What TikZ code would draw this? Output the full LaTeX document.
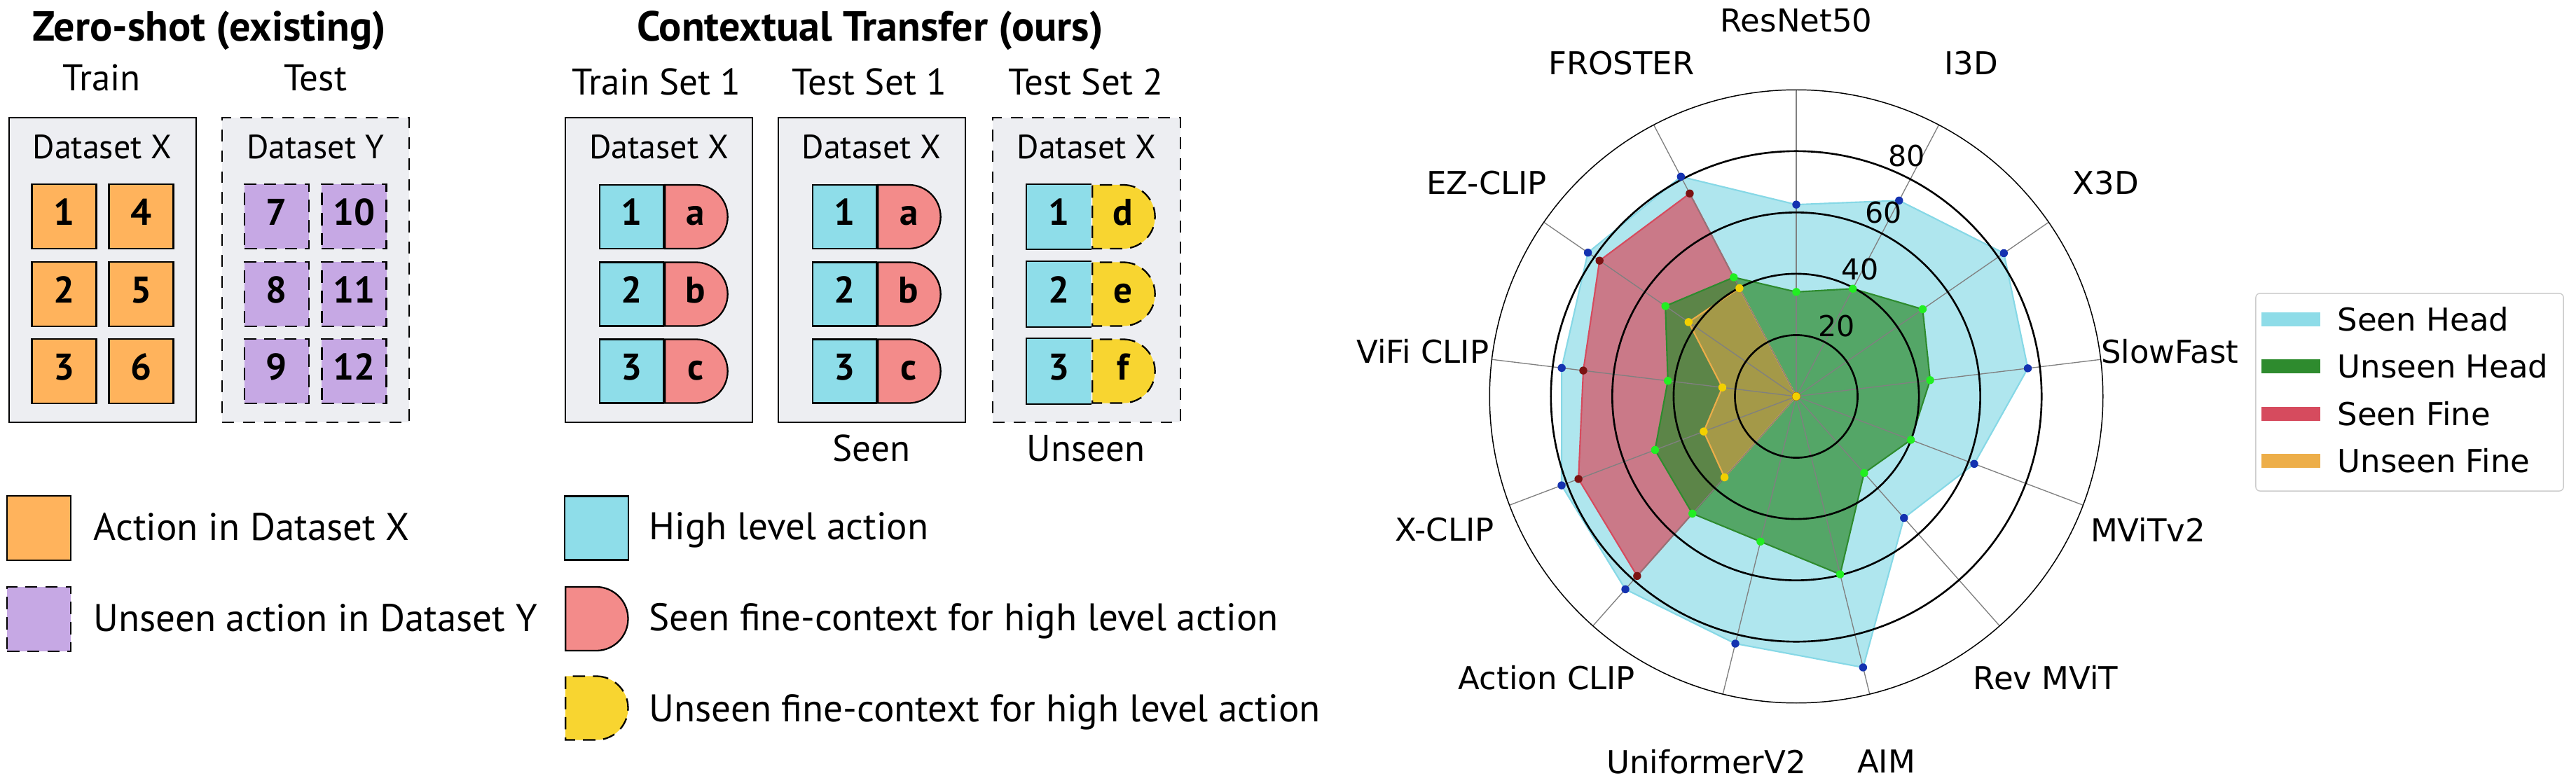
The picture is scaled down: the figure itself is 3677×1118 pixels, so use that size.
\documentclass[tikz,border=0pt]{standalone}
\usepackage{fontspec}
\setmainfont{PT Sans}
\newfontfamily\dvs{DejaVu Sans}
\usetikzlibrary{shapes.misc}
\definecolor{boxgray}{HTML}{EDEEF2}
\definecolor{actorange}{HTML}{FFB35C}
\definecolor{actpurple}{HTML}{C6A8E4}
\definecolor{actcyan}{HTML}{8EDDE9}
\definecolor{actred}{HTML}{F38B8A}
\definecolor{actyellow}{HTML}{F8D530}
\definecolor{shcol}{HTML}{8EDCE8}
\definecolor{shedge}{HTML}{86D8E6}
\definecolor{uhcol}{HTML}{2E8B2E}
\definecolor{sfcol}{HTML}{D64B5E}
\definecolor{ufcol}{HTML}{EDAE49}
\definecolor{dotblue}{HTML}{1432B0}
\definecolor{dotred}{HTML}{7B1212}
\definecolor{dotgreen}{HTML}{22EE22}
\definecolor{dotgold}{HTML}{F2D000}
\definecolor{spokegray}{HTML}{808080}
\definecolor{leggray}{HTML}{CCCCCC}
\newcommand{\fsz}[1]{\fontsize{#1}{#1}\selectfont}
\begin{document}
\begin{tikzpicture}[x=0.01cm, y=-0.01cm,
  setbox/.style={draw=black, line width=0.55pt, fill=boxgray, minimum width=2.67cm, minimum height=4.35cm, inner sep=0pt},
  dsetbox/.style={setbox, dash pattern=on 4.8pt off 3.7pt},
  actsq/.style={draw=black, line width=0.65pt, minimum width=0.92cm, minimum height=0.92cm, inner sep=0pt, font=\fsz{15.08}\bfseries, text height=0.7em, text depth=0pt},
  orangesq/.style={actsq, fill=actorange},
  purplesq/.style={actsq, fill=actpurple, dash pattern=on 5pt off 3.2pt},
  hisq/.style={actsq, fill=actcyan, minimum width=0.91cm, minimum height=0.91cm},
  hisqopen/.style={hisq, draw=none},
  pillline/.style={draw=black, line width=0.65pt},
  dhalf/.style={actsq, rounded rectangle, rounded rectangle west arc=none, minimum width=0.83cm, minimum height=0.91cm, anchor=west},
  seenD/.style={dhalf, fill=actred},
  unseenD/.style={dhalf, fill=actyellow, dash pattern=on 5pt off 3.2pt},
  titletxt/.style={anchor=base, inner sep=0pt, font=\fsz{17.07}\bfseries},
  headtxt/.style={anchor=base, inner sep=0pt, font=\fsz{15.08}},
  dlab/.style={anchor=base, inner sep=0pt, font=\fsz{13.66}},
  legtext/.style={anchor=base west, inner sep=0pt, font=\fsz{15.65}},
  axlab/.style={inner sep=0pt, font={\dvs\fsz{12.8}}},
  ticklab/.style={inner sep=0pt, font={\dvs\fsz{11.7}}},
  rlegtext/.style={anchor=base west, inner sep=0pt, font={\dvs\fsz{12.8}}},
  ring/.style={draw=black, line width=0.75pt},
  spoke/.style={draw=spokegray, line width=0.38pt},
  polyedge/.style={line width=0.6pt, line join=round}
]
\fill[white] (0,0) rectangle (3677,1118);
\useasboundingbox (0,0) rectangle (3677,1118);

% ---------- titles and headers ----------
\node[titletxt] (t1) at (299,58) {Zero-shot (existing)};
\node[titletxt] (t2) at (1242,58) {Contextual Transfer (ours)};
\node[headtxt] (h1) at (145,129) {Train};
\node[headtxt] (h2) at (450,129) {Test};
\node[headtxt] (h3) at (937,136) {Train Set 1};
\node[headtxt] (h4) at (1241,136) {Test Set 1};
\node[headtxt] (h5) at (1550,136) {Test Set 2};

% ---------- dataset boxes ----------
\node[setbox] (bA) at (146.5,385.5) {};
\node[dsetbox] (bB) at (450.5,385.5) {};
\node[setbox] (bC) at (940.5,385.5) {};
\node[setbox] (bD) at (1244.5,385.5) {};
\node[dsetbox] (bE) at (1551,385.5) {};
\node[dlab] (dA) at (146,226) {Dataset X};
\node[dlab] (dB) at (450,226) {Dataset Y};
\node[dlab] (dC) at (940.5,226) {Dataset X};
\node[dlab] (dD) at (1244,226) {Dataset X};
\node[dlab] (dE) at (1551,226) {Dataset X};

% ---------- zero-shot squares ----------
\node[orangesq] (o1) at (91.5,309) {1};
\node[orangesq] (o2) at (91.5,420) {2};
\node[orangesq] (o3) at (91.5,530) {3};
\node[orangesq] (o4) at (201.5,309) {4};
\node[orangesq] (o5) at (201.5,420) {5};
\node[orangesq] (o6) at (201.5,530) {6};
\node[purplesq] (p7) at (395,309) {7};
\node[purplesq] (p8) at (395,420) {8};
\node[purplesq] (p9) at (395,530) {9};
\node[purplesq] (p10) at (505.5,309) {10};
\node[purplesq] (p11) at (505.5,420) {11};
\node[purplesq] (p12) at (505.5,530) {12};

% ---------- contextual transfer pills ----------
\node[hisq] (c1) at (901.5,309.5) {1};
\node[seenD] (ca) at (c1.east) {a};
\node[hisq] (c2) at (901.5,420) {2};
\node[seenD] (cb) at (c2.east) {b};
\node[hisq] (c3) at (901.5,530) {3};
\node[seenD] (cc) at (c3.east) {c};

\node[hisq] (d1) at (1205.5,309.5) {1};
\node[seenD] (da) at (d1.east) {a};
\node[hisq] (d2) at (1205.5,420) {2};
\node[seenD] (db) at (d2.east) {b};
\node[hisq] (d3) at (1205.5,530) {3};
\node[seenD] (dc) at (d3.east) {c};

\node[hisqopen] (e1) at (1511.5,309.5) {1};
\draw[pillline] (e1.north east) -- (e1.north west) -- (e1.south west) -- (e1.south east);
\node[unseenD] (ed) at (e1.east) {d};
\node[hisqopen] (e2) at (1511.5,420) {2};
\draw[pillline] (e2.north east) -- (e2.north west) -- (e2.south west) -- (e2.south east);
\node[unseenD] (ee) at (e2.east) {e};
\node[hisqopen] (e3) at (1511.5,530) {3};
\draw[pillline] (e3.north east) -- (e3.north west) -- (e3.south west) -- (e3.south east);
\node[unseenD] (ef) at (e3.east) {f};

\node[headtxt] (seenlab) at (1244,658.5) {Seen};
\node[headtxt] (unseenlab) at (1550,658.5) {Unseen};

% ---------- left legends ----------
\node[orangesq, minimum width=0.91cm] (lo) at (55.5,754) {};
\node[legtext] (lot) at (133,771) {Action in Dataset X};
\node[purplesq, minimum width=0.91cm] (lp) at (55.5,884) {};
\node[legtext] (lpt) at (133,901) {Unseen action in Dataset Y};
\node[hisq] (lc) at (851.5,754) {};
\node[legtext] (lct) at (926,770) {High level action};
\node[seenD, minimum width=0.84cm] (lr) at (806,883.5) {};
\node[legtext] (lrt) at (926,900) {Seen fine-context for high level action};
\node[unseenD, minimum width=0.84cm] (ly) at (806,1011) {};
\node[legtext] (lyt) at (926,1030) {Unseen fine-context for high level action};

% ---------- radar chart ----------
\begin{scope}[shift={(2564,566)}, yscale=-1]
  \coordinate (rc) at (0,0);
  \foreach \v [count=\i from 0] in {62.6,72.2,82.3,76.1,62.1,53.0,91.1,83.1,84.1,81.9,77.1,82.6,81.0}
    \coordinate (sh\i) at ({90-\i*360/13}:{4.375*\v});
  \foreach \v [count=\i from 0] in {34.1,39.7,50.1,44.0,40.0,33.4,59.8,48.8,51.1,49.3,42.2,51.9,43.9}
    \coordinate (uh\i) at ({90-\i*360/13}:{4.375*\v});
  \foreach \v [count=\i from 0] in {0,0,0,0,0,0,0,0,78.3,76.0,70.0,78.0,74.8}
    \coordinate (sf\i) at ({90-\i*360/13}:{4.375*\v});
  \foreach \v [count=\i from 0] in {0,0,0,0,0,0,0,0,35.3,32.3,24.3,42.7,39.9}
    \coordinate (uf\i) at ({90-\i*360/13}:{4.375*\v});

  \filldraw[polyedge, fill=shcol, fill opacity=0.7, draw=shedge]
    (sh0) -- (sh1) -- (sh2) -- (sh3) -- (sh4) -- (sh5) -- (sh6) -- (sh7) -- (sh8) -- (sh9) -- (sh10) -- (sh11) -- (sh12) -- cycle;
  \filldraw[polyedge, fill=sfcol, fill opacity=0.7, draw=sfcol]
    (sf0) -- (sf1) -- (sf2) -- (sf3) -- (sf4) -- (sf5) -- (sf6) -- (sf7) -- (sf8) -- (sf9) -- (sf10) -- (sf11) -- (sf12) -- cycle;
  \filldraw[polyedge, fill=uhcol, fill opacity=0.7, draw=uhcol]
    (uh0) -- (uh1) -- (uh2) -- (uh3) -- (uh4) -- (uh5) -- (uh6) -- (uh7) -- (uh8) -- (uh9) -- (uh10) -- (uh11) -- (uh12) -- cycle;
  \filldraw[polyedge, fill=ufcol, fill opacity=0.5, draw=ufcol]
    (uf0) -- (uf1) -- (uf2) -- (uf3) -- (uf4) -- (uf5) -- (uf6) -- (uf7) -- (uf8) -- (uf9) -- (uf10) -- (uf11) -- (uf12) -- cycle;

  \foreach \i in {0,...,12}
    \draw[spoke] (rc) -- ({90-\i*360/13}:437.5);
  \draw[ring] (rc) circle[radius=0.875cm];
  \draw[ring] (rc) circle[radius=1.75cm];
  \draw[ring] (rc) circle[radius=2.625cm];
  \draw[ring] (rc) circle[radius=3.5cm];
  \draw[draw=black, line width=0.42pt] (rc) circle[radius=4.375cm];

  \foreach \i in {0,...,12} {
    \fill[dotblue] (sh\i) circle[radius=0.057cm];
    \fill[dotred] (sf\i) circle[radius=0.057cm];
    \fill[dotgreen] (uh\i) circle[radius=0.057cm];
    \fill[dotgold] (uf\i) circle[radius=0.057cm];
  }

  \node[ticklab] (r20) at (57.5,100.8) {20};
  \node[ticklab] (r40) at (91,181.7) {40};
  \node[ticklab] (r60) at (124.5,262.5) {60};
  \node[ticklab] (r80) at (157.9,343.4) {80};

  \foreach \n [count=\i from 0] in {ResNet50,I3D,X3D,SlowFast,MViTv2,Rev MViT,AIM,UniformerV2,Action CLIP,X-CLIP,ViFi CLIP,EZ-CLIP,FROSTER}
    \node[axlab] (ax\i) at ({90-\i*360/13}:537) {\n};
\end{scope}

% ---------- radar legend ----------
\node[draw=leggray, fill=white, rounded corners=0.06cm, line width=0.4pt, minimum width=4.39cm, minimum height=2.82cm, inner sep=0pt] (rleg) at (3439.5,560) {};
\fill[shcol] (3228,446) rectangle (3312,466);
\fill[uhcol] (3228,513) rectangle (3312,533);
\fill[sfcol] (3228,581) rectangle (3312,601);
\fill[ufcol] (3228,648) rectangle (3312,668);
\node[rlegtext] (rl1) at (3336,472) {Seen Head};
\node[rlegtext] (rl2) at (3336,539.5) {Unseen Head};
\node[rlegtext] (rl3) at (3336,607) {Seen Fine};
\node[rlegtext] (rl4) at (3336,674.5) {Unseen Fine};
\end{tikzpicture}
\end{document}
